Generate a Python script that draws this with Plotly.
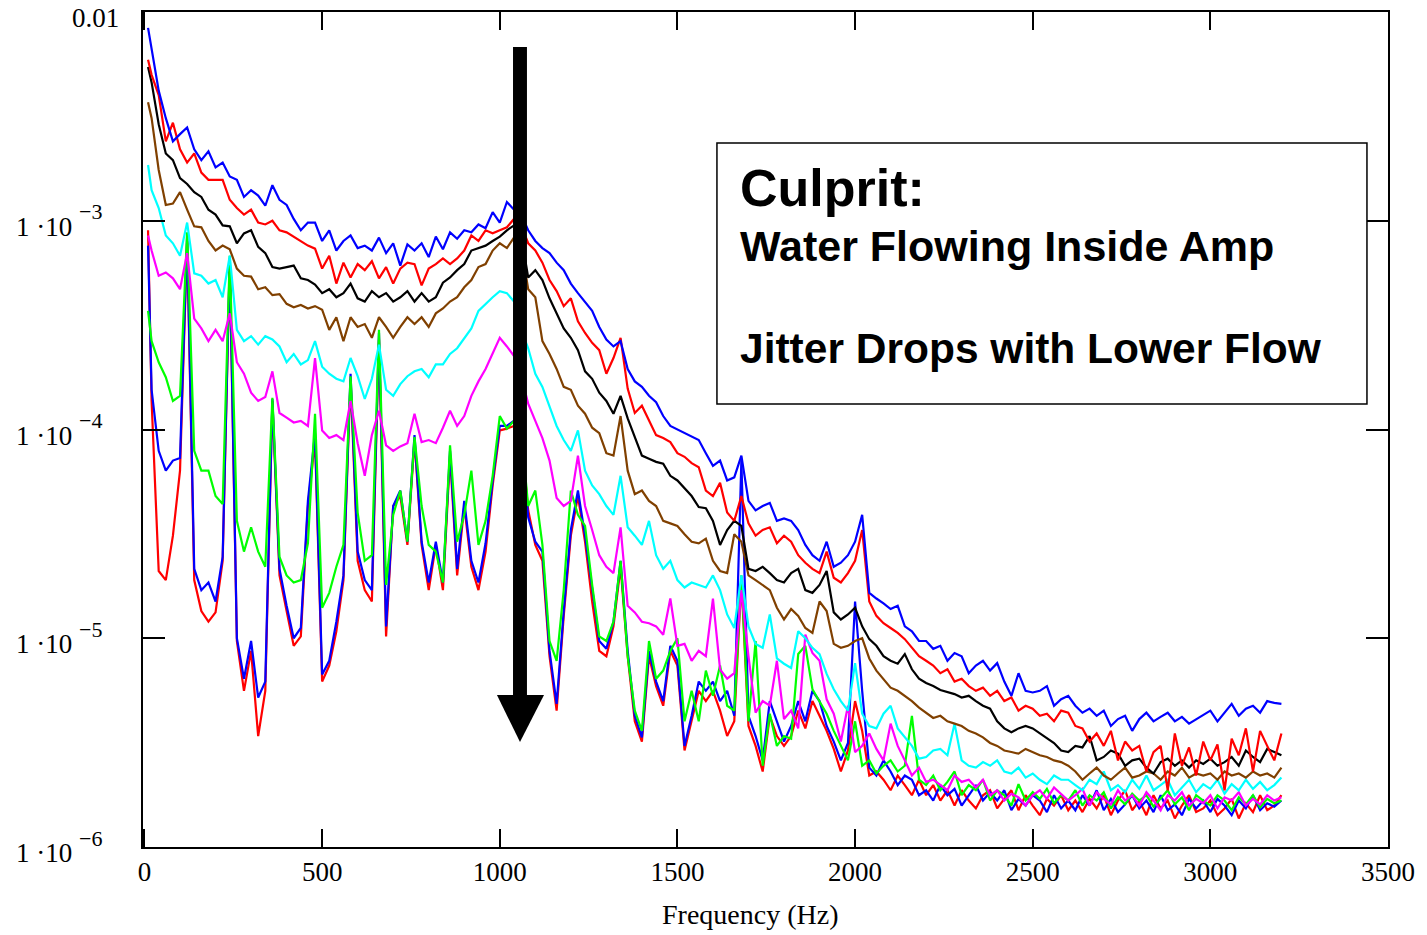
import math
import plotly.graph_objects as go

# Frequency grid (Hz)
freq = [10, 20, 40, 60, 80, 100, 120, 140, 160, 180,
        200, 220, 240, 260, 280, 300, 320, 340, 360, 380,
        400, 420, 440, 460, 480, 500, 520, 540, 560, 580,
        600, 620, 640, 660, 680, 700, 720, 740, 760, 780,
        800, 820, 840, 860, 880, 900, 920, 940, 960, 980,
        1000, 1020, 1040, 1060, 1080, 1100, 1120, 1140, 1160, 1180,
        1200, 1220, 1240, 1260, 1280, 1300, 1320, 1340, 1360, 1380,
        1400, 1420, 1440, 1460, 1480, 1500, 1520, 1540, 1560, 1580,
        1600, 1620, 1640, 1660, 1680, 1700, 1720, 1740, 1760, 1780,
        1800, 1820, 1840, 1860, 1880, 1900, 1920, 1940, 1960, 1980,
        2000, 2020, 2040, 2060, 2080, 2100, 2120, 2140, 2160, 2180,
        2200, 2220, 2240, 2260, 2280, 2300, 2320, 2340, 2360, 2380,
        2400, 2420, 2440, 2460, 2480, 2500, 2520, 2540, 2560, 2580,
        2600, 2620, 2640, 2660, 2680, 2700, 2720, 2740, 2760, 2780,
        2800, 2820, 2840, 2860, 2880, 2900, 2920, 2940, 2960, 2980,
        3000, 3020, 3040, 3060, 3080, 3100, 3120, 3140, 3160, 3180,
        3200]

# Highest flow (blue)
blue_hi = [8.4e-3, 6.6e-3, 4.2e-3, 3.1e-3, 2.4e-3, 2.6e-3, 2.8e-3, 2.2e-3, 1.95e-3, 2.15e-3,
           1.8e-3, 1.9e-3, 1.63e-3, 1.57e-3, 1.3e-3, 1.4e-3, 1.32e-3, 1.18e-3, 1.48e-3, 1.26e-3,
           1.19e-3, 1.02e-3, 9.0e-4, 9.8e-4, 9.8e-4, 8.0e-4, 9.0e-4, 7.2e-4, 8.0e-4, 8.5e-4,
           7.4e-4, 7.6e-4, 7.2e-4, 8.3e-4, 7.0e-4, 7.8e-4, 6.1e-4, 7.7e-4, 7.2e-4, 7.8e-4,
           6.7e-4, 8.4e-4, 7.3e-4, 8.8e-4, 8.2e-4, 9.0e-4, 8.8e-4, 9.6e-4, 9.2e-4, 1.1e-3,
           9.8e-4, 1.23e-3, 1.13e-3, 1.07e-3, 9.0e-4, 8.0e-4, 7.4e-4, 7.0e-4, 6.3e-4, 5.8e-4,
           5.0e-4, 4.5e-4, 4.1e-4, 3.7e-4, 3.1e-4, 2.7e-4, 2.5e-4, 2.65e-4, 1.95e-4, 1.7e-4,
           1.6e-4, 1.45e-4, 1.35e-4, 1.16e-4, 1.04e-4, 1.0e-4, 9.6e-5, 9.2e-5, 8.9e-5, 7.7e-5,
           6.7e-5, 7.1e-5, 5.7e-5, 5.9e-5, 7.5e-5, 4.55e-5, 4.1e-5, 4.3e-5, 4.45e-5, 3.65e-5,
           3.75e-5, 3.65e-5, 3.3e-5, 2.8e-5, 2.5e-5, 2.35e-5, 2.9e-5, 2.2e-5, 2.3e-5, 2.5e-5,
           2.9e-5, 3.9e-5, 1.65e-5, 1.55e-5, 1.47e-5, 1.38e-5, 1.43e-5, 1.14e-5, 1.08e-5, 9.7e-6,
           9.7e-6, 8.9e-6, 9.2e-6, 7.8e-6, 8.5e-6, 8.2e-6, 6.8e-6, 7.4e-6, 7.8e-6, 7.0e-6,
           7.6e-6, 6.2e-6, 5.3e-6, 6.8e-6, 5.6e-6, 5.5e-6, 5.6e-6, 5.9e-6, 4.75e-6, 5.1e-6,
           5.3e-6, 4.75e-6, 4.4e-6, 4.6e-6, 4.25e-6, 4.5e-6, 3.8e-6, 4.1e-6, 4.25e-6, 3.6e-6,
           4.1e-6, 4.4e-6, 4.0e-6, 4.2e-6, 4.4e-6, 4.0e-6, 4.2e-6, 3.9e-6, 4.1e-6, 4.3e-6,
           4.5e-6, 4.0e-6, 4.4e-6, 4.85e-6, 4.25e-6, 4.6e-6, 4.75e-6, 4.4e-6, 5.0e-6, 4.9e-6,
           4.85e-6]

red_hi = [5.9e-3, 5.0e-3, 4.0e-3, 2.4e-3, 2.95e-3, 2.2e-3, 1.9e-3, 2.1e-3, 1.7e-3, 1.57e-3,
          1.57e-3, 1.57e-3, 1.26e-3, 1.15e-3, 1.07e-3, 1.13e-3, 9.8e-4, 9.6e-4, 1.0e-3, 9.0e-4,
          8.8e-4, 8.4e-4, 8.0e-4, 7.6e-4, 7.35e-4, 5.9e-4, 6.8e-4, 5.0e-4, 6.3e-4, 5.35e-4,
          6.2e-4, 5.8e-4, 6.4e-4, 5.3e-4, 6.0e-4, 5.0e-4, 5.9e-4, 6.3e-4, 6.2e-4, 4.9e-4,
          5.9e-4, 6.2e-4, 6.6e-4, 6.2e-4, 6.6e-4, 7.2e-4, 8.5e-4, 8.0e-4, 9.0e-4, 8.7e-4,
          9.0e-4, 9.3e-4, 1.02e-3, 9.5e-4, 7.8e-4, 7.2e-4, 6.3e-4, 5.2e-4, 4.6e-4, 3.9e-4,
          4.25e-4, 3.3e-4, 2.9e-4, 2.6e-4, 2.4e-4, 1.85e-4, 2.2e-4, 2.75e-4, 1.57e-4, 1.2e-4,
          1.3e-4, 1.1e-4, 9.4e-5, 9.1e-5, 8.7e-5, 7.7e-5, 7.4e-5, 6.9e-5, 6.6e-5, 5.1e-5,
          4.8e-5, 5.55e-5, 4.0e-5, 3.65e-5, 4.8e-5, 3.55e-5, 3.1e-5, 3.3e-5, 3.4e-5, 2.85e-5,
          3.1e-5, 2.9e-5, 2.5e-5, 2.3e-5, 2.15e-5, 2.05e-5, 2.6e-5, 1.95e-5, 1.85e-5, 2.05e-5,
          2.35e-5, 3.3e-5, 1.5e-5, 1.28e-5, 1.18e-5, 1.12e-5, 1.06e-5, 9.9e-6, 9.0e-6, 8.2e-6,
          7.8e-6, 7.4e-6, 6.8e-6, 7.1e-6, 6.2e-6, 6.4e-6, 5.9e-6, 5.6e-6, 5.8e-6, 5.3e-6,
          5.6e-6, 5.0e-6, 5.2e-6, 4.5e-6, 4.75e-6, 4.6e-6, 4.25e-6, 4.35e-6, 4.0e-6, 4.5e-6,
          4.4e-6, 3.8e-6, 3.7e-6, 3.2e-6, 3.5e-6, 3.05e-6, 3.6e-6, 2.6e-6, 3.2e-6, 2.9e-6,
          3.05e-6, 2.3e-6, 2.85e-6, 3.05e-6, 1.87e-6, 3.5e-6, 2.45e-6, 3.0e-6, 2.2e-6, 3.2e-6,
          2.6e-6, 3.1e-6, 1.87e-6, 3.3e-6, 2.75e-6, 3.7e-6, 2.3e-6, 3.6e-6, 3.05e-6, 2.6e-6,
          3.5e-6]

black = [5.45e-3, 4.6e-3, 2.9e-3, 2.1e-3, 1.95e-3, 1.6e-3, 1.5e-3, 1.37e-3, 1.3e-3, 1.13e-3,
         1.07e-3, 9.5e-4, 9.4e-4, 7.8e-4, 8.7e-4, 9.0e-4, 7.5e-4, 7.0e-4, 6.0e-4, 5.9e-4,
         6.0e-4, 6.1e-4, 5.3e-4, 5.2e-4, 4.95e-4, 4.5e-4, 4.7e-4, 4.3e-4, 4.5e-4, 5.0e-4,
         4.25e-4, 4.1e-4, 4.6e-4, 4.3e-4, 4.5e-4, 4.1e-4, 4.3e-4, 4.6e-4, 4.1e-4, 4.5e-4,
         4.1e-4, 4.3e-4, 5.05e-4, 5.35e-4, 5.8e-4, 6.2e-4, 7.2e-4, 7.4e-4, 7.6e-4, 8.0e-4,
         8.4e-4, 9.0e-4, 9.5e-4, 8.5e-4, 5.35e-4, 5.8e-4, 5.2e-4, 4.25e-4, 3.6e-4, 3.05e-4,
         2.75e-4, 2.4e-4, 1.9e-4, 1.75e-4, 1.5e-4, 1.37e-4, 1.19e-4, 1.45e-4, 1.13e-4, 9.2e-5,
         7.5e-5, 7.25e-5, 7.0e-5, 6.85e-5, 6.0e-5, 5.7e-5, 5.2e-5, 4.8e-5, 4.25e-5, 4.2e-5,
         3.65e-5, 2.8e-5, 3.3e-5, 3.65e-5, 3.45e-5, 2.15e-5, 2.1e-5, 2.2e-5, 2.05e-5, 1.9e-5,
         1.85e-5, 2.05e-5, 2.15e-5, 1.7e-5, 1.65e-5, 1.8e-5, 2.1e-5, 1.33e-5, 1.23e-5, 1.3e-5,
         1.4e-5, 1.14e-5, 9.9e-6, 9.2e-6, 8.2e-6, 7.8e-6, 7.55e-6, 8.4e-6, 7.1e-6, 6.4e-6,
         6.1e-6, 5.9e-6, 5.65e-6, 5.5e-6, 5.4e-6, 5.2e-6, 5.3e-6, 5.0e-6, 4.75e-6, 4.6e-6,
         4.0e-6, 3.7e-6, 3.55e-6, 3.7e-6, 3.8e-6, 3.7e-6, 3.5e-6, 3.3e-6, 3.15e-6, 2.9e-6,
         2.85e-6, 3.05e-6, 3.0e-6, 3.4e-6, 2.6e-6, 2.7e-6, 2.9e-6, 2.8e-6, 2.45e-6, 2.6e-6,
         2.65e-6, 2.4e-6, 2.25e-6, 2.55e-6, 2.65e-6, 2.45e-6, 2.6e-6, 2.4e-6, 2.6e-6, 2.5e-6,
         2.65e-6, 2.45e-6, 2.55e-6, 2.7e-6, 2.45e-6, 2.9e-6, 2.7e-6, 2.55e-6, 2.95e-6, 2.85e-6,
         2.75e-6]

brown = [3.7e-3, 3.1e-3, 1.75e-3, 1.19e-3, 1.21e-3, 1.37e-3, 1.13e-3, 9.4e-4, 9.3e-4, 8.0e-4,
         7.2e-4, 7.6e-4, 7.3e-4, 5.9e-4, 5.45e-4, 5.4e-4, 4.7e-4, 4.8e-4, 4.4e-4, 4.45e-4,
         4.0e-4, 3.85e-4, 3.95e-4, 3.8e-4, 3.9e-4, 3.75e-4, 3.0e-4, 3.45e-4, 2.65e-4, 3.45e-4,
         3.1e-4, 3.2e-4, 2.75e-4, 3.45e-4, 3.1e-4, 2.75e-4, 3.1e-4, 3.45e-4, 3.2e-4, 3.45e-4,
         3.1e-4, 3.6e-4, 3.8e-4, 4.1e-4, 4.3e-4, 4.8e-4, 5.2e-4, 6.0e-4, 6.2e-4, 7.2e-4,
         7.8e-4, 7.4e-4, 8.3e-4, 7.6e-4, 4.7e-4, 4.3e-4, 2.65e-4, 2.3e-4, 1.95e-4, 1.6e-4,
         1.55e-4, 1.3e-4, 1.19e-4, 1.02e-4, 9.6e-5, 7.7e-5, 7.5e-5, 1.16e-4, 6.35e-5, 4.9e-5,
         5.1e-5, 4.55e-5, 4.3e-5, 3.65e-5, 3.55e-5, 3.45e-5, 3.15e-5, 2.9e-5, 2.85e-5, 3.0e-5,
         2.35e-5, 2.1e-5, 2.05e-5, 3.15e-5, 2.9e-5, 2.0e-5, 1.9e-5, 1.8e-5, 1.7e-5, 1.4e-5,
         1.23e-5, 1.38e-5, 1.28e-5, 1.12e-5, 1.06e-5, 1.5e-5, 1.35e-5, 9.4e-6, 9.0e-6, 9.2e-6,
         9.7e-6, 1.0e-5, 8.0e-6, 7.0e-6, 6.4e-6, 5.8e-6, 5.6e-6, 5.3e-6, 5.0e-6, 4.65e-6,
         4.4e-6, 4.15e-6, 4.25e-6, 4.0e-6, 3.9e-6, 3.8e-6, 3.6e-6, 3.5e-6, 3.35e-6, 3.15e-6,
         3.05e-6, 2.9e-6, 2.85e-6, 2.8e-6, 2.95e-6, 2.85e-6, 2.75e-6, 2.7e-6, 2.6e-6, 2.55e-6,
         2.45e-6, 2.3e-6, 2.1e-6, 2.25e-6, 2.4e-6, 2.2e-6, 2.1e-6, 2.25e-6, 2.4e-6, 2.15e-6,
         2.2e-6, 2.3e-6, 2.25e-6, 2.1e-6, 2.3e-6, 2.2e-6, 2.4e-6, 2.15e-6, 2.25e-6, 2.2e-6,
         2.25e-6, 2.1e-6, 2.3e-6, 2.2e-6, 2.25e-6, 2.15e-6, 2.3e-6, 2.2e-6, 2.25e-6, 2.15e-6,
         2.4e-6]

cyan = [1.85e-3, 1.4e-3, 1.15e-3, 8.5e-4, 7.8e-4, 6.8e-4, 9.8e-4, 5.6e-4, 5.45e-4, 5.0e-4,
        5.2e-4, 4.3e-4, 6.8e-4, 3.0e-4, 2.65e-4, 2.8e-4, 2.55e-4, 2.8e-4, 2.7e-4, 2.5e-4,
        2.1e-4, 2.3e-4, 2.05e-4, 2.15e-4, 2.65e-4, 2.0e-4, 1.85e-4, 1.75e-4, 1.7e-4, 2.2e-4,
        1.8e-4, 1.4e-4, 1.75e-4, 2.55e-4, 1.55e-4, 1.45e-4, 1.65e-4, 1.8e-4, 1.9e-4, 1.95e-4,
        1.78e-4, 2.05e-4, 2.05e-4, 2.3e-4, 2.45e-4, 2.75e-4, 3.05e-4, 3.7e-4, 4.0e-4, 4.3e-4,
        4.6e-4, 4.5e-4, 4.1e-4, 3.0e-4, 2.45e-4, 1.85e-4, 1.6e-4, 1.3e-4, 1.04e-4, 8.9e-5,
        7.9e-5, 9.9e-5, 6.35e-5, 5.4e-5, 4.9e-5, 4.3e-5, 3.9e-5, 6.0e-5, 3.4e-5, 3.1e-5,
        2.8e-5, 3.65e-5, 2.5e-5, 2.15e-5, 2.35e-5, 1.9e-5, 1.75e-5, 1.85e-5, 1.8e-5, 1.75e-5,
        2.0e-5, 1.7e-5, 1.3e-5, 1.12e-5, 2.0e-5, 1.14e-5, 9.4e-6, 9.0e-6, 1.3e-5, 8.0e-6,
        7.55e-6, 7.2e-6, 1.08e-5, 1.0e-5, 9.0e-6, 8.4e-6, 6.75e-6, 5.7e-6, 5.0e-6, 4.5e-6,
        7.6e-6, 4.35e-6, 3.8e-6, 3.7e-6, 4.35e-6, 4.75e-6, 3.7e-6, 3.35e-6, 3.05e-6, 2.65e-6,
        2.7e-6, 2.9e-6, 2.95e-6, 2.75e-6, 3.9e-6, 2.6e-6, 2.45e-6, 2.4e-6, 2.55e-6, 2.45e-6,
        2.6e-6, 2.3e-6, 2.25e-6, 2.4e-6, 2.15e-6, 2.25e-6, 2.1e-6, 2.0e-6, 2.2e-6, 2.1e-6,
        2.1e-6, 1.98e-6, 1.87e-6, 2.1e-6, 2.0e-6, 2.3e-6, 1.87e-6, 1.98e-6, 1.83e-6, 2.1e-6,
        1.9e-6, 2.2e-6, 1.87e-6, 1.98e-6, 2.1e-6, 1.77e-6, 1.93e-6, 2.1e-6, 1.83e-6, 2.0e-6,
        1.9e-6, 2.1e-6, 1.8e-6, 2.0e-6, 1.87e-6, 2.1e-6, 1.9e-6, 2.05e-6, 1.87e-6, 1.98e-6,
        2.15e-6]

magenta = [8.5e-4, 7.2e-4, 5.45e-4, 5.65e-4, 5.3e-4, 4.7e-4, 7.0e-4, 3.4e-4, 3.05e-4, 2.65e-4,
           3.0e-4, 2.65e-4, 3.6e-4, 2.1e-4, 1.85e-4, 1.5e-4, 1.37e-4, 1.43e-4, 1.9e-4, 1.2e-4,
           1.14e-4, 1.08e-4, 1.1e-4, 1.04e-4, 2.2e-4, 9.9e-5, 9.1e-5, 9.4e-5, 8.9e-5, 1.37e-4,
           8.6e-5, 6.0e-5, 9.4e-5, 1.23e-4, 8.4e-5, 7.9e-5, 8.3e-5, 8.6e-5, 1.19e-4, 8.7e-5,
           8.9e-5, 8.6e-5, 1.02e-4, 1.23e-4, 1.04e-4, 1.16e-4, 1.45e-4, 1.7e-4, 1.95e-4, 2.3e-4,
           2.75e-4, 2.5e-4, 2.25e-4, 1.8e-4, 1.33e-4, 1.1e-4, 9.1e-5, 7.1e-5, 4.7e-5, 4.3e-5,
           4.55e-5, 7.5e-5, 4.3e-5, 3.3e-5, 2.5e-5, 2.2e-5, 2.05e-5, 3.4e-5, 1.43e-5, 1.33e-5,
           1.2e-5, 1.18e-5, 1.14e-5, 1.04e-5, 1.55e-5, 9.2e-6, 9.4e-6, 7.8e-6, 8.7e-6, 8.2e-6,
           1.55e-5, 7.1e-6, 6.4e-6, 6.8e-6, 1.7e-5, 8.2e-6, 4.4e-6, 5.0e-6, 4.75e-6, 7.8e-6,
           4.1e-6, 4.5e-6, 3.7e-6, 1.04e-5, 8.5e-6, 7.8e-6, 5.1e-6, 4.35e-6, 3.2e-6, 4.75e-6,
           2.85e-6, 3.05e-6, 3.5e-6, 2.95e-6, 2.6e-6, 3.9e-6, 3.05e-6, 2.6e-6, 2.2e-6, 2.4e-6,
           2.05e-6, 2.1e-6, 1.98e-6, 1.87e-6, 2.2e-6, 2.05e-6, 2.1e-6, 1.93e-6, 2.1e-6, 1.77e-6,
           1.87e-6, 1.67e-6, 1.8e-6, 1.73e-6, 1.58e-6, 1.77e-6, 1.87e-6, 1.7e-6, 1.93e-6, 1.8e-6,
           1.67e-6, 1.77e-6, 1.9e-6, 1.58e-6, 1.83e-6, 1.7e-6, 1.6e-6, 1.87e-6, 1.67e-6, 1.77e-6,
           1.58e-6, 1.83e-6, 1.67e-6, 1.5e-6, 1.77e-6, 1.67e-6, 1.83e-6, 1.58e-6, 1.7e-6, 1.62e-6,
           1.77e-6, 1.53e-6, 1.73e-6, 1.67e-6, 1.83e-6, 1.58e-6, 1.7e-6, 1.6e-6, 1.77e-6, 1.67e-6,
           1.73e-6]

green = [3.7e-4, 2.65e-4, 2.1e-4, 1.78e-4, 1.37e-4, 1.45e-4, 8.8e-4, 7.9e-5, 6.35e-5, 6.35e-5,
         4.8e-5, 4.4e-5, 6.8e-4, 3.65e-5, 2.6e-5, 3.4e-5, 2.6e-5, 2.2e-5, 1.42e-4, 2.45e-5,
         2.0e-5, 1.85e-5, 1.9e-5, 2.85e-5, 1.19e-4, 1.4e-5, 1.65e-5, 2.2e-5, 2.8e-5, 1.8e-4,
         4.0e-5, 2.35e-5, 2.5e-5, 3.0e-4, 1.8e-5, 3.9e-5, 5.1e-5, 2.9e-5, 9.2e-5, 4.3e-5,
         2.8e-5, 2.6e-5, 1.85e-5, 8.4e-5, 2.9e-5, 3.9e-5, 6.35e-5, 2.8e-5, 3.65e-5, 6.0e-5,
         1.16e-4, 1.01e-4, 1.1e-4, 9.9e-5, 4.3e-5, 5.1e-5, 2.8e-5, 9.7e-6, 7.8e-6, 1.7e-5,
         5.1e-5, 3.9e-5, 3.45e-5, 1.8e-5, 1.02e-5, 9.7e-6, 1.2e-5, 2.35e-5, 8.2e-6, 4.5e-6,
         3.6e-6, 9.7e-6, 6.4e-6, 7.0e-6, 8.7e-6, 1.0e-5, 4.0e-6, 5.6e-6, 4.0e-6, 7.0e-6,
         5.3e-6, 7.4e-6, 4.75e-6, 4.5e-6, 2.0e-5, 4.0e-6, 9.7e-6, 2.45e-6, 4.35e-6, 3.05e-6,
         3.4e-6, 3.3e-6, 8.4e-6, 9.2e-6, 5.7e-6, 5.0e-6, 4.35e-6, 3.6e-6, 3.05e-6, 2.6e-6,
         4.0e-6, 2.45e-6, 2.6e-6, 2.25e-6, 2.45e-6, 2.6e-6, 2.3e-6, 2.45e-6, 4.25e-6, 2.1e-6,
         1.98e-6, 2.2e-6, 1.87e-6, 2.05e-6, 2.3e-6, 1.77e-6, 1.98e-6, 1.87e-6, 2.1e-6, 1.67e-6,
         1.87e-6, 1.77e-6, 1.58e-6, 2.0e-6, 1.67e-6, 1.83e-6, 1.7e-6, 1.9e-6, 1.62e-6, 1.77e-6,
         1.67e-6, 1.87e-6, 1.58e-6, 1.77e-6, 1.67e-6, 1.83e-6, 1.53e-6, 1.73e-6, 1.6e-6, 1.8e-6,
         1.67e-6, 1.77e-6, 1.56e-6, 1.7e-6, 1.87e-6, 1.6e-6, 1.73e-6, 1.5e-6, 1.77e-6, 1.67e-6,
         1.58e-6, 1.77e-6, 1.67e-6, 1.5e-6, 1.73e-6, 1.6e-6, 1.77e-6, 1.55e-6, 1.7e-6, 1.62e-6,
         1.67e-6]

blue_lo = [7.6e-4, 1.55e-4, 7.9e-5, 6.35e-5, 7.1e-5, 7.3e-5, 8.5e-4, 2.15e-5, 1.7e-5, 1.85e-5,
           1.5e-5, 2.45e-5, 6.6e-4, 1.0e-5, 6.4e-6, 9.7e-6, 5.2e-6, 6.2e-6, 1.4e-4, 2.15e-5,
           1.43e-5, 1.0e-5, 1.12e-5, 4.55e-5, 9.6e-5, 6.7e-6, 7.8e-6, 1.2e-5, 2.0e-5, 1.85e-4,
           2.6e-5, 1.9e-5, 1.7e-5, 2.9e-4, 1.14e-5, 4.3e-5, 5.1e-5, 2.9e-5, 9.4e-5, 2.9e-5,
           1.85e-5, 2.9e-5, 1.85e-5, 7.9e-5, 2.15e-5, 4.55e-5, 2.35e-5, 1.85e-5, 2.85e-5, 5.7e-5,
           1.04e-4, 1.04e-4, 1.1e-4, 9.9e-5, 3.8e-5, 2.9e-5, 2.6e-5, 8.7e-6, 4.85e-6, 1.35e-5,
           3.3e-5, 5.1e-5, 3.1e-5, 1.7e-5, 9.7e-6, 8.9e-6, 1.2e-5, 2.35e-5, 8.7e-6, 4.25e-6,
           3.35e-6, 8.7e-6, 6.2e-6, 5.0e-6, 9.2e-6, 7.8e-6, 3.05e-6, 4.25e-6, 6.2e-6, 5.6e-6,
           6.2e-6, 5.0e-6, 5.6e-6, 4.25e-6, 7.1e-5, 4.25e-6, 3.4e-6, 2.6e-6, 5.0e-6, 4.0e-6,
           3.2e-6, 3.8e-6, 5.0e-6, 4.0e-6, 5.6e-6, 5.0e-6, 3.8e-6, 3.2e-6, 2.6e-6, 3.15e-6,
           1.5e-5, 5.6e-6, 2.4e-6, 2.2e-6, 2.6e-6, 2.3e-6, 1.98e-6, 2.2e-6, 2.1e-6, 1.77e-6,
           1.87e-6, 1.67e-6, 1.98e-6, 1.77e-6, 1.9e-6, 1.58e-6, 1.77e-6, 1.98e-6, 1.67e-6, 1.83e-6,
           1.67e-6, 1.87e-6, 1.5e-6, 1.7e-6, 1.58e-6, 1.77e-6, 1.67e-6, 1.47e-6, 1.77e-6, 1.53e-6,
           1.67e-6, 1.5e-6, 1.77e-6, 1.58e-6, 1.87e-6, 1.5e-6, 1.7e-6, 1.47e-6, 1.6e-6, 1.77e-6,
           1.53e-6, 1.67e-6, 1.47e-6, 1.77e-6, 1.5e-6, 1.6e-6, 1.42e-6, 1.7e-6, 1.53e-6, 1.67e-6,
           1.47e-6, 1.7e-6, 1.58e-6, 1.42e-6, 1.67e-6, 1.53e-6, 1.77e-6, 1.5e-6, 1.62e-6, 1.56e-6,
           1.67e-6]

red_lo = [9.0e-4, 1.37e-4, 2.1e-5, 1.9e-5, 3.1e-5, 6.35e-5, 8.0e-4, 1.9e-5, 1.35e-5, 1.2e-5,
          1.33e-5, 2.35e-5, 6.3e-4, 9.7e-6, 5.6e-6, 8.7e-6, 3.4e-6, 5.6e-6, 1.37e-4, 2.0e-5,
          1.35e-5, 9.2e-6, 1.02e-5, 4.3e-5, 8.9e-5, 6.2e-6, 7.4e-6, 1.08e-5, 1.9e-5, 1.75e-4,
          2.35e-5, 1.7e-5, 1.5e-5, 2.7e-4, 1.02e-5, 4.3e-5, 4.8e-5, 2.8e-5, 8.9e-5, 2.8e-5,
          1.7e-5, 2.8e-5, 1.7e-5, 7.5e-5, 2.0e-5, 4.3e-5, 2.2e-5, 1.7e-5, 2.6e-5, 5.4e-5,
          9.9e-5, 1.01e-4, 1.04e-4, 9.4e-5, 4.1e-5, 2.8e-5, 2.35e-5, 8.2e-6, 4.5e-6, 1.28e-5,
          3.1e-5, 4.8e-5, 2.9e-5, 1.5e-5, 8.7e-6, 8.2e-6, 1.14e-5, 2.2e-5, 8.2e-6, 4.0e-6,
          3.2e-6, 8.2e-6, 5.9e-6, 4.75e-6, 8.7e-6, 7.4e-6, 2.9e-6, 4.0e-6, 5.6e-6, 5.0e-6,
          5.6e-6, 4.5e-6, 3.4e-6, 4.0e-6, 1.9e-5, 3.8e-6, 3.05e-6, 2.3e-6, 4.25e-6, 3.4e-6,
          3.05e-6, 3.4e-6, 4.5e-6, 3.7e-6, 5.0e-6, 4.25e-6, 3.6e-6, 2.95e-6, 2.3e-6, 2.9e-6,
          5.0e-6, 3.6e-6, 2.2e-6, 2.3e-6, 2.1e-6, 1.87e-6, 2.2e-6, 1.98e-6, 1.77e-6, 2.1e-6,
          1.77e-6, 1.98e-6, 1.67e-6, 1.87e-6, 1.58e-6, 1.87e-6, 1.67e-6, 1.53e-6, 1.77e-6, 1.87e-6,
          1.53e-6, 1.7e-6, 1.87e-6, 1.5e-6, 1.77e-6, 1.58e-6, 1.42e-6, 1.7e-6, 1.58e-6, 1.77e-6,
          1.5e-6, 1.67e-6, 1.47e-6, 1.7e-6, 1.53e-6, 1.77e-6, 1.42e-6, 1.67e-6, 1.87e-6, 1.5e-6,
          1.67e-6, 1.42e-6, 1.77e-6, 1.53e-6, 1.67e-6, 1.37e-6, 1.58e-6, 1.77e-6, 1.47e-6, 1.53e-6,
          1.67e-6, 1.42e-6, 1.53e-6, 1.7e-6, 1.37e-6, 1.62e-6, 1.47e-6, 1.77e-6, 1.5e-6, 1.58e-6,
          1.77e-6]

series = [
    (red_lo, "#FF0000"),
    (blue_lo, "#0000FF"),
    (green, "#00FF00"),
    (magenta, "#FF00FF"),
    (cyan, "#00FFFF"),
    (brown, "#804000"),
    (black, "#000000"),
    (red_hi, "#FF0000"),
    (blue_hi, "#0000FF"),
]

y_tick_vals = [1e-6, 1e-5, 1e-4, 1e-3, 1e-2]
y_exponents = ["\u22126", "\u22125", "\u22124", "\u22123", None]
x_tick_vals = [0, 500, 1000, 1500, 2000, 2500, 3000, 3500]

fig = go.Figure()
for vals, col in series:
    fig.add_trace(go.Scatter(x=freq, y=vals, mode="lines",
                             line=dict(color=col, width=2.2), showlegend=False,
                             hoverinfo="skip"))

serif = "Liberation Serif, Times New Roman, serif"
sans = "Liberation Sans, Arial, sans-serif"

# y tick labels drawn as annotations: mantissa and a full-size raised exponent
ylab_annots = []
for v, e in zip(y_tick_vals, y_exponents):
    if e is None:
        ylab_annots.append(dict(
            text="0.01", xref="paper", yref="y", x=(121 - 143) / 1245, y=math.log10(v),
            showarrow=False, xanchor="right", yanchor="middle", yshift=-6,
            font=dict(family=serif, size=27, color="black")))
    else:
        ylab_annots.append(dict(
            text="1 \u00b710", xref="paper", yref="y", x=(74 - 143) / 1245, y=math.log10(v),
            showarrow=False, xanchor="right", yanchor="middle", yshift=-6,
            font=dict(family=serif, size=27, color="black")))
        ylab_annots.append(dict(
            text=e, xref="paper", yref="y", x=(77 - 143) / 1245, y=math.log10(v),
            showarrow=False, xanchor="left", yanchor="middle", yshift=9,
            font=dict(family=serif, size=22, color="black")))

fig.update_layout(
    width=1427, height=935,
    margin=dict(l=143, r=39, t=12, b=88, autoexpand=False),
    paper_bgcolor="white", plot_bgcolor="white",
    xaxis=dict(range=[-4.2, 3500], tickvals=x_tick_vals, automargin=False,
               ticks="inside", ticklen=18, tickwidth=2, tickcolor="black",
               showline=True, linewidth=2, linecolor="black", mirror="ticks",
               showgrid=False, zeroline=False,
               tickfont=dict(family=serif, size=27, color="black")),
    yaxis=dict(type="log", range=[-6, -2], tickvals=y_tick_vals, automargin=False,
               showticklabels=False,
               ticks="inside", ticklen=22, tickwidth=2, tickcolor="black",
               showline=True, linewidth=2, linecolor="black", mirror="ticks",
               showgrid=False, zeroline=False),
    shapes=[
        # arrow shaft
        dict(type="rect", xref="paper", yref="paper", x0=0.2972, x1=0.3084,
             y0=0.1820, y1=0.9581, fillcolor="black", line=dict(width=0), layer="above"),
        # arrow head
        dict(type="path", xref="paper", yref="paper",
             path="M 0.2843 0.1820 L 0.3221 0.1820 L 0.3028 0.1257 Z",
             fillcolor="black", line=dict(width=0), layer="above"),
        # text box
        dict(type="rect", xref="paper", yref="paper", x0=0.4610, x1=0.9831,
             y0=0.5305, y1=0.8431, fillcolor="white",
             line=dict(color="black", width=1.5), layer="above"),
    ],
    annotations=ylab_annots + [
        dict(text="Frequency (Hz)", xref="paper", yref="paper", x=0.4876, y=-0.0814,
             showarrow=False, xanchor="center", yanchor="middle",
             font=dict(family=serif, size=28, color="black")),
        dict(text="<b>Culprit:</b>", xref="paper", yref="paper", x=0.4779, y=0.7892,
             showarrow=False, xanchor="left", yanchor="middle",
             font=dict(family=sans, size=52, color="black")),
        dict(text="<b>Water Flowing Inside Amp</b>", xref="paper", yref="paper",
             x=0.4779, y=0.7198, showarrow=False, xanchor="left", yanchor="middle",
             font=dict(family=sans, size=43, color="black")),
        dict(text="<b>Jitter Drops with Lower Flow</b>", xref="paper", yref="paper",
             x=0.4779, y=0.5976, showarrow=False, xanchor="left", yanchor="middle",
             font=dict(family=sans, size=42.5, color="black")),
    ],
)

fig.write_html("out.html")
